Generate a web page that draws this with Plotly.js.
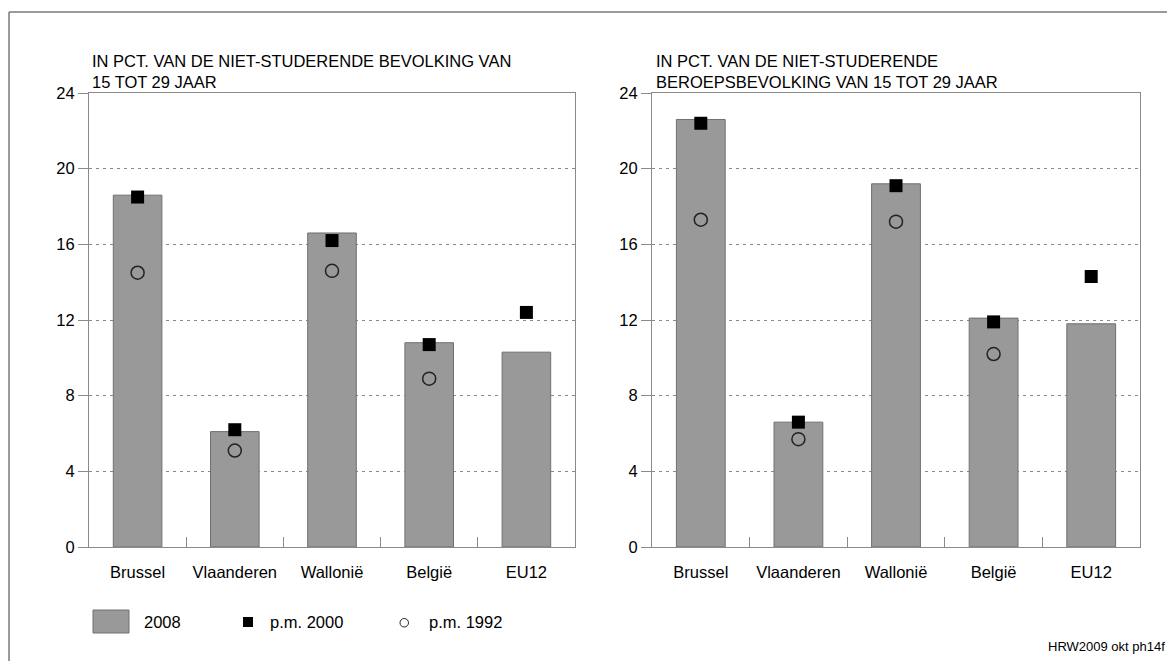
<!DOCTYPE html>
<html>
<head>
<meta charset="utf-8">
<script src="https://cdn.plot.ly/plotly-3.0.1.min.js"></script>
<style>html,body{margin:0;padding:0;background:#fff;}#chart{width:1167px;height:661px;}</style>
</head>
<body>
<div id="chart"></div>
<script>
// ---- data ----
const categories = ["Brussel", "Vlaanderen", "Wallonië", "België", "EU12"];
// left panel: % of non-studying population aged 15-29
const left2008 = [18.6, 6.1, 16.6, 10.8, 10.3];
const left2000 = [18.5, 6.2, 16.2, 10.7, 12.4];
const left1992 = [14.5, 5.1, 14.6, 8.9, null];
// right panel: % of non-studying labour force aged 15-29
const right2008 = [22.6, 6.6, 19.2, 12.1, 11.8];
const right2000 = [22.4, 6.6, 19.1, 11.9, 14.3];
const right1992 = [17.3, 5.7, 17.2, 10.2, null];
const yTicks = [0, 4, 8, 12, 16, 20, 24];
const seriesNames = ["2008", "p.m. 2000", "p.m. 1992"];
const leftTitle = ["IN PCT. VAN DE NIET-STUDERENDE BEVOLKING VAN", "15 TOT 29 JAAR"];
const rightTitle = ["IN PCT. VAN DE NIET-STUDERENDE", "BEROEPSBEVOLKING VAN 15 TOT 29 JAAR"];
const footnote = "HRW2009 okt ph14f";

// ---- styling / geometry ----
const W = 1167, H = 661;
const px = x => x / W;
const py = y => 1 - y / H;
const FONT = "Liberation Sans, Arial, sans-serif";
const barColor = "#999999", barLine = "#707070", axisColor = "#8a8a8a";

function panelTraces(v08, v00, v92, xa, ya) {
  return [
    {type: "bar", x: categories, y: v08, name: seriesNames[0], xaxis: xa, yaxis: ya, width: 0.5,
     marker: {color: barColor, line: {color: barLine, width: 1}}, showlegend: false, hoverinfo: "x+y"},
    {type: "scatter", mode: "markers", x: categories, y: v00, name: seriesNames[1], xaxis: xa, yaxis: ya,
     marker: {symbol: "square", size: 13, color: "#000", line: {width: 0}}, showlegend: false, cliponaxis: false},
    {type: "scatter", mode: "markers", x: categories, y: v92, name: seriesNames[2], xaxis: xa, yaxis: ya,
     marker: {symbol: "circle-open", size: 13, color: "#222", line: {width: 1.5, color: "#222"}}, showlegend: false, cliponaxis: false}
  ];
}

const data = [
  ...panelTraces(left2008, left2000, left1992, "x", "y"),
  ...panelTraces(right2008, right2000, right1992, "x2", "y2")
];

function xAxis(domain, anchor) {
  return {domain: domain, anchor: anchor, type: "category", categoryarray: categories, categoryorder: "array",
    range: [-0.5, 4.5], showline: true, linecolor: axisColor, linewidth: 1, mirror: true,
    ticks: "inside", tickson: "boundaries", ticklen: 10, tickcolor: axisColor, tickwidth: 1,
    showgrid: false, zeroline: false, ticklabelstandoff: 10,
    tickfont: {family: FONT, size: 16.5, color: "#000"}, fixedrange: true};
}
function yAxis(domain, anchor) {
  return {domain: domain, anchor: anchor, range: [0, 24], tickvals: yTicks, ticktext: yTicks.map(String),
    showline: true, linecolor: axisColor, linewidth: 1, mirror: true,
    ticks: "outside", ticklen: 10, tickcolor: axisColor, tickwidth: 1,
    showgrid: true, gridcolor: "#8a8a8a", gridwidth: 1, griddash: "3px,4px", zeroline: false,
    tickfont: {family: FONT, size: 16.5, color: "#000"}, fixedrange: true};
}

const yDom = [py(547), py(93)];
const annotations = [];
function addTitle(lines, x0) {
  annotations.push({text: lines.join("<br>"), xref: "paper", yref: "paper", x: px(x0), y: py(92),
    xanchor: "left", yanchor: "bottom", align: "left", showarrow: false, borderpad: 0,
    font: {family: FONT, size: 16.5, color: "#000"}});
}
addTitle(leftTitle, 91);
addTitle(rightTitle, 655);

// legend texts
const legendTextX = [142, 268, 427];
seriesNames.forEach((n, i) => annotations.push({text: n, xref: "paper", yref: "paper", x: px(legendTextX[i]), y: py(622),
  xanchor: "left", yanchor: "middle", showarrow: false, font: {family: FONT, size: 16.5, color: "#000"}}));
annotations.push({text: footnote, xref: "paper", yref: "paper", x: px(1046), y: py(646), xanchor: "left", yanchor: "middle",
  showarrow: false, font: {family: FONT, size: 13, color: "#000"}});

const shapes = [
  // outer frame (top and left edges)
  {type: "line", xref: "paper", yref: "paper", x0: px(9), x1: px(1167), y0: py(12), y1: py(12), line: {color: "#7a7a7a", width: 1.5}},
  {type: "line", xref: "paper", yref: "paper", x0: px(9), x1: px(9), y0: py(12), y1: py(661), line: {color: "#7a7a7a", width: 1.5}},
  // legend symbols
  {type: "rect", xref: "paper", yref: "paper", x0: px(93), x1: px(129), y0: py(610), y1: py(633), fillcolor: barColor, line: {color: barLine, width: 1}},
  {type: "rect", xref: "paper", yref: "paper", x0: px(243), x1: px(253), y0: py(617), y1: py(627), fillcolor: "#000", line: {width: 0}},
  {type: "circle", xref: "paper", yref: "paper", x0: px(400), x1: px(408.5), y0: py(618.5), y1: py(627), fillcolor: "rgba(0,0,0,0)", line: {color: "#222", width: 1}}
];

const layout = {
  width: W, height: H, autosize: false,
  margin: {l: 0, r: 0, t: 0, b: 0},
  paper_bgcolor: "#fff", plot_bgcolor: "#fff",
  showlegend: false, bargap: 0.5,
  font: {family: FONT, color: "#000"},
  xaxis: xAxis([px(89), px(575)], "y"),
  yaxis: yAxis(yDom, "x"),
  xaxis2: xAxis([px(652), px(1140)], "y2"),
  yaxis2: yAxis(yDom, "x2"),
  annotations: annotations,
  shapes: shapes
};

Plotly.newPlot("chart", data, layout, {displayModeBar: false, staticPlot: true});
</script>
</body>
</html>
